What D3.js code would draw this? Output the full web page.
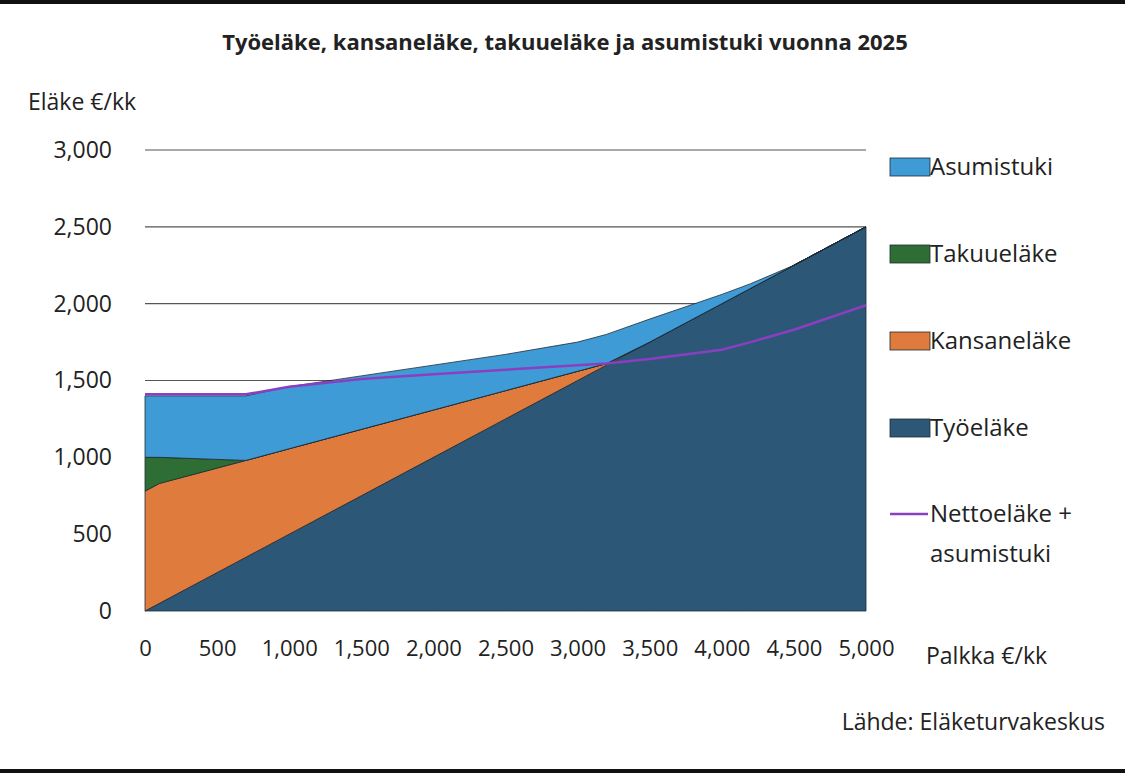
<!DOCTYPE html>
<html><head><meta charset="utf-8">
<script src="https://cdn.jsdelivr.net/npm/d3@7"></script>
<style>body{margin:0;background:#fff;font-family:"Open Sans","Noto Sans",sans-serif;}</style>
</head><body>
<svg id="chart" width="1125" height="774"></svg>
<script>
// Data
const palkka = [0, 100, 700, 1000, 1500, 2000, 2500, 3000, 3200, 3500, 4000, 4200, 4500, 5000];
const tyoelake = [0, 50, 350, 500, 750, 1000, 1250, 1500, 1600, 1750, 2000, 2100, 2250, 2500];
const kansanelake = [780, 780, 630, 556, 432, 308, 184, 60, 10, 0, 0, 0, 0, 0];
const takuuelake = [220, 170, 0, 0, 0, 0, 0, 0, 0, 0, 0, 0, 0, 0];
const asumistuki = [400, 400, 420, 404, 348, 292, 236, 190, 190, 150, 60, 30, 0, 0];
const nettoelake = [1410, 1410, 1410, 1460, 1510, 1540, 1570, 1600, 1610, 1640, 1700, 1750, 1830, 1990];
const xTicks = [0, 500, 1000, 1500, 2000, 2500, 3000, 3500, 4000, 4500, 5000];
const yTicks = [0, 500, 1000, 1500, 2000, 2500, 3000];
const seriesNames = ["Työeläke", "Kansaneläke", "Takuueläke", "Asumistuki"];
const colors = ["#2c5777", "#e07b3e", "#2e6e34", "#3f9bd6"];

const svg = d3.select("#chart");
const x = d3.scaleLinear().domain([0, 5000]).range([145, 866]);
const y = d3.scaleLinear().domain([0, 3000]).range([611, 150]);

// border lines
svg.append("line").attr("x1", 0).attr("x2", 1125).attr("y1", 2).attr("y2", 2).attr("stroke", "#111").attr("stroke-width", 4);
svg.append("line").attr("x1", 0).attr("x2", 1125).attr("y1", 771).attr("y2", 771).attr("stroke", "#111").attr("stroke-width", 4);

svg.append("text").attr("x", 565).attr("y", 50).attr("text-anchor", "middle")
    .attr("font-size", 22).attr("font-weight", "bold").attr("fill", "#222")
    .text("Työeläke, kansaneläke, takuueläke ja asumistuki vuonna 2025");

// grid
svg.selectAll(".grid").data(yTicks.filter(d => d > 0)).enter().append("line")
    .attr("x1", x(0)).attr("x2", x(5000)).attr("y1", d => y(d)).attr("y2", d => y(d))
    .attr("stroke", "#555").attr("stroke-width", 1.2);

// stacked areas
const table = palkka.map((p, i) => ({
    palkka: p, "Työeläke": tyoelake[i], "Kansaneläke": kansanelake[i],
    "Takuueläke": takuuelake[i], "Asumistuki": asumistuki[i]
}));
const stacked = d3.stack().keys(seriesNames)(table);
const area = d3.area().x(d => x(d.data.palkka)).y0(d => y(d[0])).y1(d => y(d[1]));
svg.selectAll(".layer").data(stacked).enter().append("path")
    .attr("d", area).attr("fill", (d, i) => colors[i])
    .attr("stroke", "#1d2b35").attr("stroke-width", 0.8);

// netto line
const line = d3.line().x((d, i) => x(palkka[i])).y(d => y(d));
svg.append("path").datum(nettoelake).attr("d", line)
    .attr("fill", "none").attr("stroke", "#8a3fc0").attr("stroke-width", 2.5);

// axes
const yAxis = svg.append("g").attr("transform", `translate(112,0)`)
    .call(d3.axisLeft(y).tickValues(yTicks).tickSize(0).tickPadding(0));
yAxis.select(".domain").remove();
yAxis.selectAll("text").attr("font-size", 23).attr("fill", "#222").attr("font-family", "Open Sans");

const xAxis = svg.append("g").attr("transform", `translate(0,640)`)
    .call(d3.axisBottom(x).tickValues(xTicks).tickSize(0).tickPadding(0));
xAxis.select(".domain").remove();
xAxis.selectAll("text").attr("font-size", 22).attr("fill", "#222").attr("font-family", "Open Sans");

svg.append("text").attr("x", 28).attr("y", 110).attr("font-size", 23).attr("fill", "#222").text("Eläke €/kk");
svg.append("text").attr("x", 926).attr("y", 664).attr("font-size", 23).attr("fill", "#222").text("Palkka €/kk");
svg.append("text").attr("x", 1105).attr("y", 730).attr("text-anchor", "end").attr("font-size", 23).attr("fill", "#222").text("Lähde: Eläketurvakeskus");

// legend
const legendItems = seriesNames.slice().reverse();
const legendColors = colors.slice().reverse();
const lg = svg.append("g");
legendItems.forEach((name, i) => {
    const ly = 167 + i * 87;
    lg.append("rect").attr("x", 890).attr("y", ly - 9).attr("width", 40).attr("height", 18)
        .attr("fill", legendColors[i]).attr("stroke", "#1d2b35").attr("stroke-width", 0.8);
    lg.append("text").attr("x", 930).attr("y", ly + 8).attr("font-size", 24).attr("fill", "#222").text(name);
});
lg.append("line").attr("x1", 890).attr("x2", 928).attr("y1", 514).attr("y2", 514).attr("stroke", "#8a3fc0").attr("stroke-width", 2.5);
lg.append("text").attr("x", 930).attr("y", 522).attr("font-size", 24).attr("fill", "#222").text("Nettoeläke +");
lg.append("text").attr("x", 930).attr("y", 562).attr("font-size", 24).attr("fill", "#222").text("asumistuki");
</script>
</body></html>
